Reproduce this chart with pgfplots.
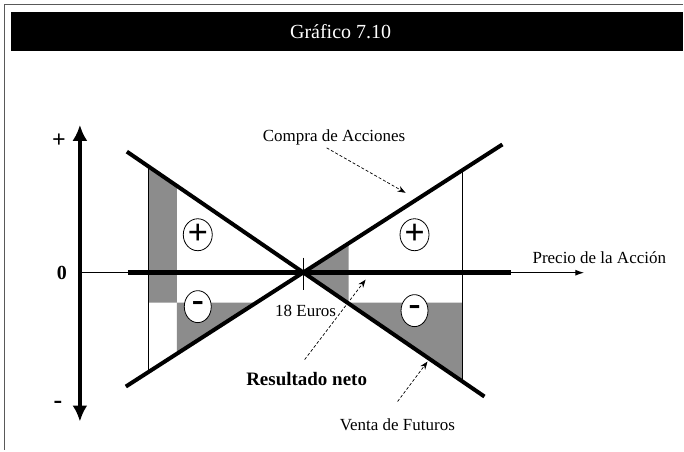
\documentclass[border=0pt]{standalone}
\usepackage{fontspec}
\setmainfont{Liberation Serif}
\usepackage{pgfplots}
\pgfplotsset{compat=1.18}
\usetikzlibrary{arrows.meta,shapes.geometric}

\definecolor{shade}{gray}{0.55}
\definecolor{framegray}{gray}{0.35}

\begin{document}
\begin{tikzpicture}
\begin{axis}[
    width=684pt, height=451pt, scale only axis,
    xmin=0, xmax=684, ymin=0, ymax=451, y dir=reverse,
    hide axis, clip=false,
]
% page, frame and title bar
\fill[white] (axis cs:0,0) rectangle (axis cs:684,451);
\draw[framegray, line width=1.6pt] (axis cs:684,4.5) -- (axis cs:4.5,4.5) -- (axis cs:4.5,451);
\fill[black] (axis cs:11,12) rectangle (axis cs:684,51);
\node[white, inner sep=0pt, font=\fontsize{20}{20}\selectfont] at (axis cs:341,32) {Gráfico 7.10};

% shaded areas
\addplot[fill=shade, draw=none] coordinates {(149,166.8) (177,186) (177,303) (149,303)} -- cycle;
\addplot[fill=shade, draw=none] coordinates {(177,303) (257.3,303) (177,354.5)} -- cycle;
\addplot[fill=shade, draw=none] coordinates {(304,273) (349,244.1) (349,273)} -- cycle;
\addplot[fill=shade, draw=none] coordinates {(304,273) (349,273) (349,303) (463,303) (463,381.9)} -- cycle;

% thin verticals
\addplot[black, line width=0.9pt] coordinates {(149,166.8) (149,372.5)};
\addplot[black, line width=0.9pt] coordinates {(463,170.9) (463,381.9)};

% price axis
\addplot[black, line width=1.2pt, -{Latex[length=9pt,width=6pt]}] coordinates {(80,273) (585,273)};
\addplot[black, line width=5pt] coordinates {(128,273) (512,273)};
\addplot[black, line width=0.8pt] coordinates {(304,258) (304,290)};

% result axis
\addplot[black, line width=4.5pt, {Latex[length=16pt,width=15pt]}-{Latex[length=16pt,width=15pt]}] coordinates {(80,125) (80,422)};

% Compra de Acciones and Venta de Futuros
\addplot[black, line width=4pt] coordinates {(126,387) (503,144.6)};
\addplot[black, line width=4pt] coordinates {(127,151.8) (485,397)};

% signs
\tikzset{sgn/.style={draw=black, line width=0.8pt, fill=white, ellipse, minimum width=27pt, minimum height=32pt, inner sep=0pt, font=\fontsize{36}{36}\selectfont\bfseries}}
\node[sgn] at (axis cs:198,235) {+};
\node[sgn] at (axis cs:415,235) {+};
\node[sgn] at (axis cs:198,307) {-};
\node[sgn] at (axis cs:415,311) {-};

% labels
\tikzset{lbl/.style={inner sep=0pt, font=\fontsize{17}{17}\selectfont}}
\node[lbl, anchor=west] at (axis cs:263,138) {Compra de Acciones};
\node[lbl, anchor=west] at (axis cs:533,258) {Precio de la Acción};
\node[lbl] at (axis cs:306,311) {18 Euros};
\node[lbl, anchor=west] at (axis cs:340,425) {Venta de Futuros};
\node[inner sep=0pt, font=\fontsize{19}{19}\selectfont\bfseries] at (axis cs:307,379) {Resultado neto};
\node[inner sep=0pt, font=\fontsize{24}{24}\selectfont\bfseries] at (axis cs:59,141) {+};
\node[inner sep=0pt, font=\fontsize{20}{20}\selectfont\bfseries] at (axis cs:62,273) {0};
\node[inner sep=0pt, font=\fontsize{26}{26}\selectfont\bfseries] at (axis cs:58,405) {-};

% pointers
\draw[black, line width=0.7pt, dash pattern=on 3pt off 2pt, -{Stealth[length=8pt,width=6pt]}] (axis cs:327,148) -- (axis cs:406,193);
\draw[black, line width=0.7pt, dash pattern=on 3pt off 2pt, -{Stealth[length=8pt,width=6pt]}] (axis cs:305,360) -- (axis cs:366,280);
\draw[black, line width=0.7pt, dash pattern=on 3pt off 2pt, -{Stealth[length=8pt,width=6pt]}] (axis cs:398,402) -- (axis cs:428,362);
\end{axis}
\end{tikzpicture}
\end{document}
